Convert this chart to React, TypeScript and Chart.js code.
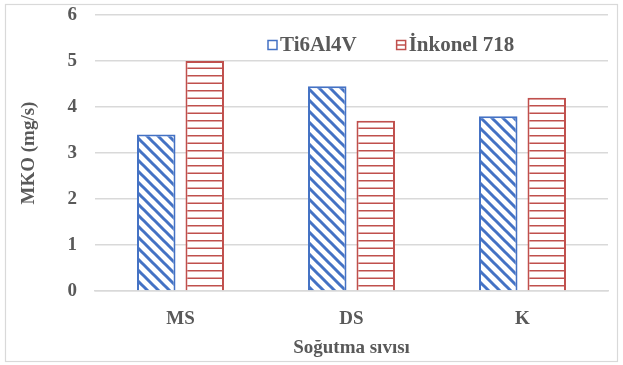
import React, { useEffect, useRef } from "react";
import { Chart, registerables } from "chart.js";

Chart.register(...registerables);

// Mass loss rate (MKO) per coolant type for the two alloys
const categories = ["MS", "DS", "K"];
const ti6al4v = [3.4, 4.45, 3.8];
const inkonel718 = [5.0, 3.7, 4.2];
const seriesNames = ["Ti6Al4V", "İnkonel 718"];
const yMin = 0;
const yMax = 6;
const yStep = 1;

const BLUE = "#4472C4";
const RED = "#C0504D";
const TEXT = "#595959";
const GRID = "#d9d9d9";
const FONT = "'Liberation Serif', 'Times New Roman', serif";
const FONT_SIZE = 19;
const LEGEND_FONT_SIZE = 21;

// White tile with downward diagonal stripes
function diagonalPattern(color: string): CanvasPattern {
  const s = 11;
  const c = document.createElement("canvas");
  c.width = s;
  c.height = s;
  const g = c.getContext("2d")!;
  g.fillStyle = "#ffffff";
  g.fillRect(0, 0, s, s);
  g.strokeStyle = color;
  g.lineWidth = 3;
  g.beginPath();
  for (let k = -1; k <= 1; k++) {
    g.moveTo(-2, -2 + k * s);
    g.lineTo(s + 2, s + 2 + k * s);
  }
  g.stroke();
  return g.createPattern(c, "repeat")!;
}

// White tile with thin horizontal lines
function horizontalPattern(color: string): CanvasPattern {
  const w = 8;
  const h = 15;
  const c = document.createElement("canvas");
  c.width = w;
  c.height = h;
  const g = c.getContext("2d")!;
  g.fillStyle = "#ffffff";
  g.fillRect(0, 0, w, h);
  g.strokeStyle = color;
  g.lineWidth = 1.5;
  g.beginPath();
  g.moveTo(0, 0.75);
  g.lineTo(w, 0.75);
  g.moveTo(0, 8.25);
  g.lineTo(w, 8.25);
  g.stroke();
  return g.createPattern(c, "repeat")!;
}

const backgroundAndFrame = {
  id: "backgroundAndFrame",
  beforeDraw(chart: Chart) {
    const { ctx, width, height } = chart;
    ctx.save();
    ctx.fillStyle = "#ffffff";
    ctx.fillRect(0, 0, width, height);
    ctx.strokeStyle = GRID;
    ctx.lineWidth = 1.2;
    ctx.strokeRect(5.5, 4.5, width - 11, height - 8);
    ctx.restore();
  },
};

// Legend drawn inside the plot area, above the bars
const insideLegend = {
  id: "insideLegend",
  afterDatasetsDraw(chart: Chart) {
    const { ctx, chartArea } = chart;
    const cy = chartArea.top + 30;
    let x = chartArea.left + 173;
    ctx.save();
    ctx.font = `bold ${LEGEND_FONT_SIZE}px ${FONT}`;
    ctx.textBaseline = "middle";
    chart.data.datasets.forEach((ds: any) => {
      ctx.fillStyle = "#ffffff";
      ctx.fillRect(x, cy - 4.5, 9, 9);
      ctx.strokeStyle = ds.borderColor;
      ctx.lineWidth = 1.5;
      ctx.strokeRect(x, cy - 4.5, 9, 9);
      if (ds.borderColor === RED) {
        ctx.beginPath();
        ctx.moveTo(x, cy);
        ctx.lineTo(x + 9, cy);
        ctx.stroke();
      }
      ctx.fillStyle = TEXT;
      ctx.fillText(ds.label, x + 12, cy + 1);
      x += 12 + ctx.measureText(ds.label).width + 40;
    });
    ctx.restore();
  },
};

export default function App() {
  const canvasRef = useRef<HTMLCanvasElement | null>(null);

  useEffect(() => {
    const canvas = canvasRef.current;
    if (!canvas) return;
    const font = { family: FONT, size: FONT_SIZE, weight: "bold" as const };

    const chart = new Chart(canvas, {
      type: "bar",
      data: {
        labels: categories,
        datasets: [
          {
            label: seriesNames[0],
            data: ti6al4v,
            backgroundColor: diagonalPattern(BLUE),
            borderColor: BLUE,
            borderWidth: 2,
            categoryPercentage: 0.567,
            barPercentage: 0.794,
          },
          {
            label: seriesNames[1],
            data: inkonel718,
            backgroundColor: horizontalPattern(RED),
            borderColor: RED,
            borderWidth: 2,
            categoryPercentage: 0.567,
            barPercentage: 0.794,
          },
        ],
      },
      options: {
        responsive: false,
        animation: false,
        layout: { padding: { left: 0, right: 15, top: 15, bottom: 0 } },
        plugins: {
          legend: { display: false },
          tooltip: { enabled: false },
        },
        scales: {
          x: {
            grid: { display: false, drawTicks: false },
            border: { display: true, color: GRID, width: 1.5 },
            ticks: { font, color: TEXT, padding: 17 },
            title: {
              display: true,
              text: "Soğutma sıvısı",
              font,
              color: TEXT,
              padding: { top: 4, bottom: 6 },
            },
            afterFit: (scale: any) => {
              scale.height = 74;
            },
          },
          y: {
            min: yMin,
            max: yMax,
            ticks: { stepSize: yStep, font, color: TEXT, padding: 18 },
            grid: { color: GRID, lineWidth: 1.5, drawTicks: false },
            border: { display: false },
            title: {
              display: true,
              text: "MKO (mg/s)",
              font,
              color: TEXT,
              padding: { top: 18, bottom: 4 },
            },
            afterFit: (scale: any) => {
              scale.width = 95;
              scale.paddingTop = 0;
              scale.paddingBottom = 0;
            },
          },
        },
      },
      plugins: [backgroundAndFrame, insideLegend],
    });

    return () => chart.destroy();
  }, []);

  return (
    <div style={{ position: "absolute", left: 0, top: 0, width: 623, height: 365 }}>
      <canvas ref={canvasRef} width={623} height={365} />
    </div>
  );
}
